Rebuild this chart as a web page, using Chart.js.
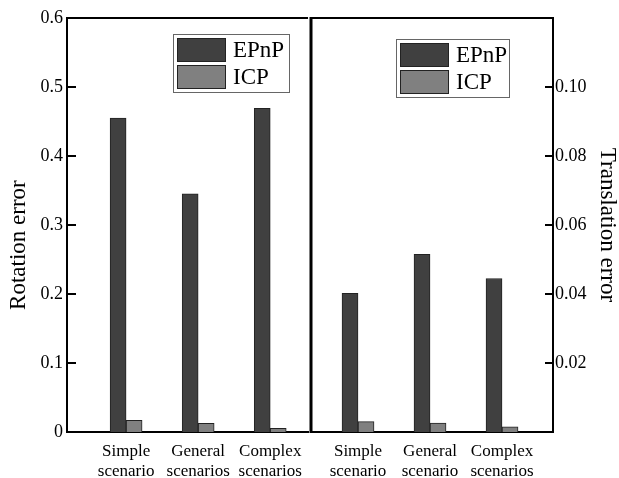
<!DOCTYPE html>
<html>
<head>
<meta charset="utf-8">
<script src="https://cdn.jsdelivr.net/npm/chart.js@4/dist/chart.umd.min.js"></script>
<style>
  html, body { margin: 0; padding: 0; background: #fff; }
  #wrap { position: relative; width: 619px; height: 478px; overflow: hidden; }
  .panel { position: absolute; top: 0; height: 478px; }
  #left { left: 0; width: 312px; }
  #right { left: 308px; width: 311px; }
</style>
</head>
<body>
<div id="wrap">
  <div class="panel" id="left"><canvas id="rotChart"></canvas></div>
  <div class="panel" id="right"><canvas id="transChart"></canvas></div>
</div>
<script>
const methods = ['EPnP', 'ICP']
const rotScenarios = ['Simple scenario', 'General scenarios', 'Complex scenarios']
const transScenarios = ['Simple scenario', 'General scenario', 'Complex scenarios']
const rotEPnP = [0.455, 0.345, 0.469]
const rotICP = [0.017, 0.0125, 0.0055]
const transEPnP = [0.0402, 0.0515, 0.0445]
const transICP = [0.003, 0.0026, 0.0015]
const rotTicks = [0, 0.1, 0.2, 0.3, 0.4, 0.5, 0.6]
const transTicks = [0.02, 0.04, 0.06, 0.08, 0.10]

const SERIF = "'Liberation Serif', 'Times New Roman', serif"
const DARK = '#404040'
const LIGHT = '#808080'

// top border, panel divider and inward tick marks
const framePlugin = {
    id: 'frame',
    afterDatasetsDraw(chart, args, opts) {
        const { ctx, chartArea } = chart
        const { left, right, top, bottom } = chartArea
        ctx.save()
        ctx.strokeStyle = '#000'
        ctx.lineWidth = 2
        ctx.beginPath()
        ctx.moveTo(left, top)
        ctx.lineTo(right, top)
        ctx.stroke()

        if (opts.divider) {
            ctx.lineWidth = 3
            ctx.beginPath()
            ctx.moveTo(left, top - 1)
            ctx.lineTo(left, bottom + 1)
            ctx.stroke()
        }

        const scale = chart.scales.y
        const x0 = opts.side === 'left' ? left : right
        const dir = opts.side === 'left' ? 1 : -1
        ctx.lineWidth = 2
        ctx.beginPath()
        scale.ticks.forEach(t => {
            const py = Math.round(scale.getPixelForValue(t.value))
            ctx.moveTo(x0, py)
            ctx.lineTo(x0 + dir * opts.tickLength, py)
        })
        ctx.stroke()
        ctx.restore()
    }
}

// boxed legend inside the plot
const boxLegendPlugin = {
    id: 'boxLegend',
    afterDraw(chart, args, opts) {
        const { ctx, chartArea } = chart
        const x = chartArea.left + opts.dx
        const y = chartArea.top + opts.dy
        ctx.save()
        ctx.fillStyle = '#fff'
        ctx.fillRect(x, y, opts.width, opts.height)
        ctx.strokeStyle = '#666'
        ctx.lineWidth = 1
        ctx.strokeRect(x + 0.5, y + 0.5, opts.width, opts.height)
        ctx.font = `23px ${SERIF}`
        ctx.textBaseline = 'middle'
        chart.data.datasets.forEach((ds, i) => {
            const sx = x + 4
            const sy = y + 4 + i * 27
            ctx.fillStyle = ds.backgroundColor
            ctx.fillRect(sx, sy, 48, 23)
            ctx.strokeStyle = '#222'
            ctx.strokeRect(sx + 0.5, sy + 0.5, 48, 23)
            ctx.fillStyle = '#000'
            ctx.fillText(ds.label, sx + 56, sy + 13)
        })
        ctx.restore()
    }
}

function barDataset(label, values, color) {
    return {
        label,
        data: values,
        backgroundColor: color,
        borderColor: '#222',
        borderWidth: 1,
        barThickness: 16
    }
}

function xScale(categories, min, max) {
    return {
        type: 'linear',
        min,
        max,
        offset: false,
        afterBuildTicks: s => { s.ticks = categories.map((_, i) => ({ value: i })) },
        afterFit: s => { s.height = 46 },
        ticks: {
            autoSkip: false,
            maxRotation: 0,
            padding: 10,
            color: '#000',
            font: { family: SERIF, size: 17, lineHeight: 1.15 },
            callback: v => categories[v].split(' ')
        },
        grid: { display: false, drawTicks: false },
        border: { display: true, color: '#000', width: 2 }
    }
}

new Chart(document.getElementById('rotChart'), {
    type: 'bar',
    data: {
        labels: rotScenarios.map((_, i) => i),
        datasets: [
            barDataset(methods[0], rotEPnP, DARK),
            barDataset(methods[1], rotICP, LIGHT)
        ]
    },
    options: {
        animation: false,
        responsive: true,
        maintainAspectRatio: false,
        layout: { padding: { top: 18, right: 1, bottom: 0, left: 0 } },
        plugins: {
            legend: { display: false },
            tooltip: { enabled: false },
            frame: { side: 'left', tickLength: 9, divider: false },
            boxLegend: { dx: 106, dy: 16, width: 116, height: 58 }
        },
        scales: {
            x: xScale(rotScenarios, -0.82, 2.525),
            y: {
                min: 0,
                max: 0.6,
                afterBuildTicks: s => { s.ticks = rotTicks.map(value => ({ value })) },
                afterFit: s => { s.width = 67 },
                ticks: {
                    padding: 4,
                    color: '#000',
                    font: { family: SERIF, size: 18 },
                    callback: v => String(v)
                },
                grid: { display: false, drawTicks: false },
                border: { display: true, color: '#000', width: 2 },
                title: {
                    display: true,
                    text: 'Rotation error' + ' '.repeat(7),
                    color: '#000',
                    font: { family: SERIF, size: 23, lineHeight: 1 },
                    padding: { top: 7, bottom: 0 }
                }
            }
        }
    },
    plugins: [framePlugin, boxLegendPlugin]
})

new Chart(document.getElementById('transChart'), {
    type: 'bar',
    data: {
        labels: transScenarios.map((_, i) => i),
        datasets: [
            barDataset(methods[0], transEPnP, DARK),
            barDataset(methods[1], transICP, LIGHT)
        ]
    },
    options: {
        animation: false,
        responsive: true,
        maintainAspectRatio: false,
        layout: { padding: { top: 18, right: 0, bottom: 0, left: 3 } },
        plugins: {
            legend: { display: false },
            tooltip: { enabled: false },
            frame: { side: 'right', tickLength: 8, divider: true },
            boxLegend: { dx: 85, dy: 21, width: 113, height: 58 }
        },
        scales: {
            x: xScale(transScenarios, -0.653, 2.708),
            y: {
                position: 'right',
                min: 0,
                max: 0.12,
                afterBuildTicks: s => { s.ticks = transTicks.map(value => ({ value })) },
                afterFit: s => { s.width = 66 },
                ticks: {
                    padding: 2,
                    color: '#000',
                    font: { family: SERIF, size: 18 },
                    callback: v => v.toFixed(2)
                },
                grid: { display: false, drawTicks: false },
                border: { display: true, color: '#000', width: 2 },
                title: {
                    display: true,
                    text: 'Translation error',
                    color: '#000',
                    font: { family: SERIF, size: 23, lineHeight: 1 },
                    padding: { top: 0, bottom: 0 }
                }
            }
        }
    },
    plugins: [framePlugin, boxLegendPlugin]
})
</script>
</body>
</html>
